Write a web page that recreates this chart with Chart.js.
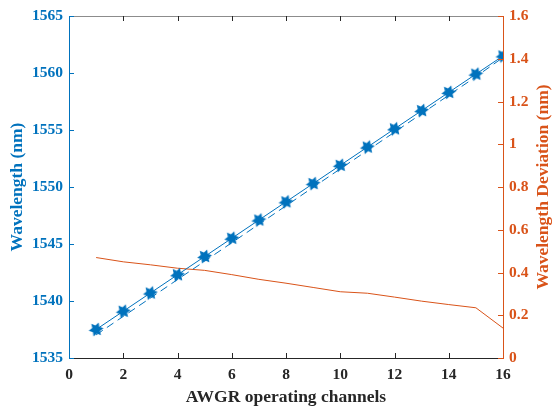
<!DOCTYPE html>
<html>
<head>
<meta charset="utf-8">
<script src="https://cdn.jsdelivr.net/npm/chart.js@4/dist/chart.umd.min.js"></script>
<style>
html,body{margin:0;padding:0;background:#fff;}
#wrap{width:552px;height:409px;position:relative;}
</style>
</head>
<body>
<div id="wrap"><canvas id="c" width="552" height="409"></canvas></div>
<script>
const channels = [1,2,3,4,5,6,7,8,9,10,11,12,13,14,15,16];
const measuredWavelength = [1537.5,1539.1,1540.7,1542.3,1543.9,1545.5,1547.1,1548.7,1550.3,1551.9,1553.5,1555.1,1556.7,1558.3,1559.9,1561.5];
const referenceWavelength = [1537.03,1538.65,1540.26,1541.88,1543.49,1545.11,1546.73,1548.35,1549.97,1551.59,1553.2,1554.81,1556.43,1558.05,1559.67,1561.36];
const wavelengthDeviation = [0.47,0.45,0.436,0.42,0.41,0.39,0.368,0.35,0.33,0.31,0.303,0.285,0.266,0.25,0.235,0.14];
const xTicks = [0,2,4,6,8,10,12,14,16];
const rightTitle = 'Wavelength Deviation (nm)';

const BLUE = '#0072BD', ORANGE = '#D95319', DARK = '#262626';
const FONT = "'Liberation Serif','Times New Roman',serif";

function hexagram(r){
  const s = Math.ceil(r*2+2);
  const c = document.createElement('canvas');
  c.width = s; c.height = s;
  const g = c.getContext('2d');
  g.fillStyle = BLUE;
  g.beginPath();
  const ri = r*0.55;
  for(let i=0;i<12;i++){
    const a = -Math.PI/2 + i*Math.PI/6 + 0.35;
    const rr = i%2===0 ? r : ri;
    const px = s/2 + rr*Math.cos(a), py = s/2 + rr*Math.sin(a);
    if(i===0) g.moveTo(px,py); else g.lineTo(px,py);
  }
  g.closePath(); g.fill();
  return c;
}
const marker = hexagram(7.5);

const tickPlugin = {
  id:'inTicks',
  afterDatasetsDraw(chart){
    const ctx = chart.ctx, a = chart.chartArea;
    const x = chart.scales.x, yL = chart.scales.y, yR = chart.scales.y1;
    ctx.save();
    ctx.lineWidth = 1;
    ctx.strokeStyle = '#8c8c8c';
    ctx.beginPath();
    ctx.moveTo(a.left, Math.round(a.top)+0.5); ctx.lineTo(a.right, Math.round(a.top)+0.5);
    ctx.stroke();
    ctx.strokeStyle = DARK;
    ctx.beginPath();
    xTicks.forEach(v=>{
      const px = Math.round(x.getPixelForValue(v))+0.5;
      if (v===0 || v===16) return;
      ctx.moveTo(px, a.bottom); ctx.lineTo(px, a.bottom-5);
      ctx.moveTo(px, a.top); ctx.lineTo(px, a.top+5);
    });
    ctx.stroke();
    ctx.strokeStyle = BLUE;
    ctx.beginPath();
    yL.ticks.forEach(t=>{
      const py = Math.round(yL.getPixelForValue(t.value))+0.5;
      ctx.moveTo(a.left, py); ctx.lineTo(a.left+5, py);
    });
    ctx.stroke();
    ctx.strokeStyle = ORANGE;
    ctx.beginPath();
    yR.ticks.forEach(t=>{
      const py = Math.round(yR.getPixelForValue(t.value))+0.5;
      ctx.moveTo(a.right, py); ctx.lineTo(a.right-5, py);
    });
    ctx.stroke();
    // right axis title, reading bottom-to-top
    ctx.translate(543, (a.top + a.bottom)/2);
    ctx.rotate(-Math.PI/2);
    ctx.fillStyle = ORANGE;
    ctx.font = "bold 17.5px " + FONT;
    ctx.textAlign = 'center';
    ctx.textBaseline = 'middle';
    ctx.fillText(rightTitle, 0, 0);
    ctx.restore();
  }
};

new Chart(document.getElementById('c'), {
  type:'line',
  data:{
    datasets:[
      {
        label:'Measured', yAxisID:'y',
        data: channels.map((c,i)=>({x:c,y:measuredWavelength[i]})),
        borderColor:BLUE, borderWidth:1, backgroundColor:BLUE,
        pointStyle: marker, pointRadius:8, tension:0
      },
      {
        label:'Reference', yAxisID:'y',
        data: channels.map((c,i)=>({x:c,y:referenceWavelength[i]})),
        borderColor:BLUE, borderWidth:1, borderDash:[8,5],
        pointRadius:0, tension:0
      },
      {
        label:'Deviation', yAxisID:'y1',
        data: channels.map((c,i)=>({x:c,y:wavelengthDeviation[i]})),
        borderColor:ORANGE, borderWidth:1, pointRadius:0, tension:0
      }
    ]
  },
  options:{
    responsive:false, animation:false,
    layout:{padding:{top:16,left:0,right:0,bottom:0}},
    plugins:{legend:{display:false}, tooltip:{enabled:false}},
    scales:{
      x:{
        type:'linear', min:0, max:16,
        afterBuildTicks(s){ s.ticks = xTicks.map(v=>({value:v})); },
        afterFit(s){ s.height = 51; },
        grid:{display:false, drawTicks:false},
        border:{display:true, color:DARK, width:1},
        ticks:{color:DARK, padding:8, font:{family:FONT, size:15.5, weight:'bold'}, maxRotation:0,
               callback:v=>String(v)},
        title:{display:true, text:'AWGR operating channels', color:DARK,
               font:{family:FONT, size:17.5, weight:'bold'}, padding:{top:0,bottom:1}}
      },
      y:{
        position:'left', min:1535, max:1565,
        ticks:{stepSize:5, color:BLUE, padding:6, font:{family:FONT, size:15.5, weight:'bold'},
               callback:v=>String(v)},
        afterFit(s){ s.width = 69; },
        grid:{display:false, drawTicks:false},
        border:{display:true, color:BLUE, width:1},
        title:{display:true, text:'Wavelength (nm)', color:BLUE,
               font:{family:FONT, size:17.5, weight:'bold'}, padding:{top:7,bottom:0}}
      },
      y1:{
        position:'right', min:0, max:1.6,
        ticks:{stepSize:0.2, color:ORANGE, padding:6, font:{family:FONT, size:15.5, weight:'bold'},
               callback:v=>String(Number(v.toFixed(1)))},
        afterFit(s){ s.width = 49; },
        grid:{display:false, drawTicks:false},
        border:{display:true, color:ORANGE, width:1},
        title:{display:false}
      }
    }
  },
  plugins:[tickPlugin]
});
</script>
</body>
</html>
